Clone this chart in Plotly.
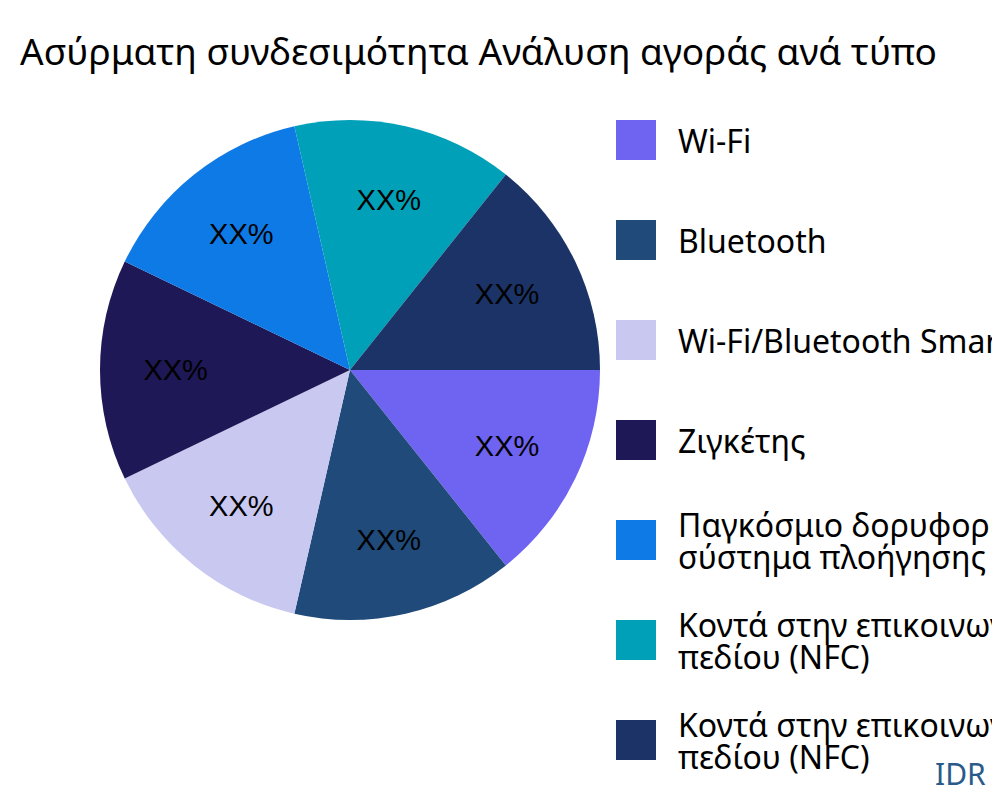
import plotly.graph_objects as go

labels = ["Wi-Fi", "Bluetooth", "Wi-Fi/Bluetooth Smart", "Ζιγκέτης",
          "Παγκόσμιο δορυφορικό<br>σύστημα πλοήγησης (GNSS)",
          "Κοντά στην επικοινωνία<br>πεδίου (NFC)",
          "Κοντά στην επικοινωνία<br>πεδίου (NFC) "]
values = [1, 1, 1, 1, 1, 1, 1]
colors = ["#6f63f2", "#1f4a7a", "#c8c8f0", "#1e1856", "#0e7ae6", "#00a0b8", "#1b3366"]

fig = go.Figure(go.Pie(
    labels=labels, values=values, sort=False, direction="clockwise", rotation=90,
    marker=dict(colors=colors), texttemplate="XX%", textposition="inside",
    insidetextfont=dict(color="black", size=29, family="Liberation Sans"),
    domain=dict(x=[0.092, 0.592], y=[0.235, 0.86]), hoverinfo="label", showlegend=False))

shapes, annots = [], []
for i, (lab, c) in enumerate(zip(labels, colors)):
    yc = 132 + 100 * i
    shapes.append(dict(type="rect", xref="paper", yref="paper", x0=0.608, x1=0.648,
                       y0=1 - (yc + 20) / 800, y1=1 - (yc - 20) / 800,
                       fillcolor=c, line=dict(width=0)))
    lines = lab.split("<br>")
    offs = [0] if len(lines) == 1 else [-16, 16]
    for ln, o in zip(lines, offs):
        annots.append(dict(text=ln, xref="paper", yref="paper", x=0.668,
                           y=1 - (yc + o) / 800, xanchor="left", yanchor="middle",
                           showarrow=False, font=dict(size=32, color="black")))

annots.append(dict(text="IDR", x=0.98, y=0.015, xref="paper", yref="paper",
                   xanchor="right", yanchor="bottom", showarrow=False,
                   font=dict(size=30, color="#2a5a8a")))

fig.update_layout(
    width=1000, height=800, margin=dict(l=0, r=0, t=0, b=0),
    paper_bgcolor="white", font=dict(family="Noto Sans", color="black"),
    title=dict(text="Ασύρματη συνδεσιμότητα Ανάλυση αγοράς ανά τύπο", x=0.012, y=0.945,
               xanchor="left", yanchor="middle", font=dict(size=37)),
    shapes=shapes, annotations=annots)
fig.write_html("out.html")
